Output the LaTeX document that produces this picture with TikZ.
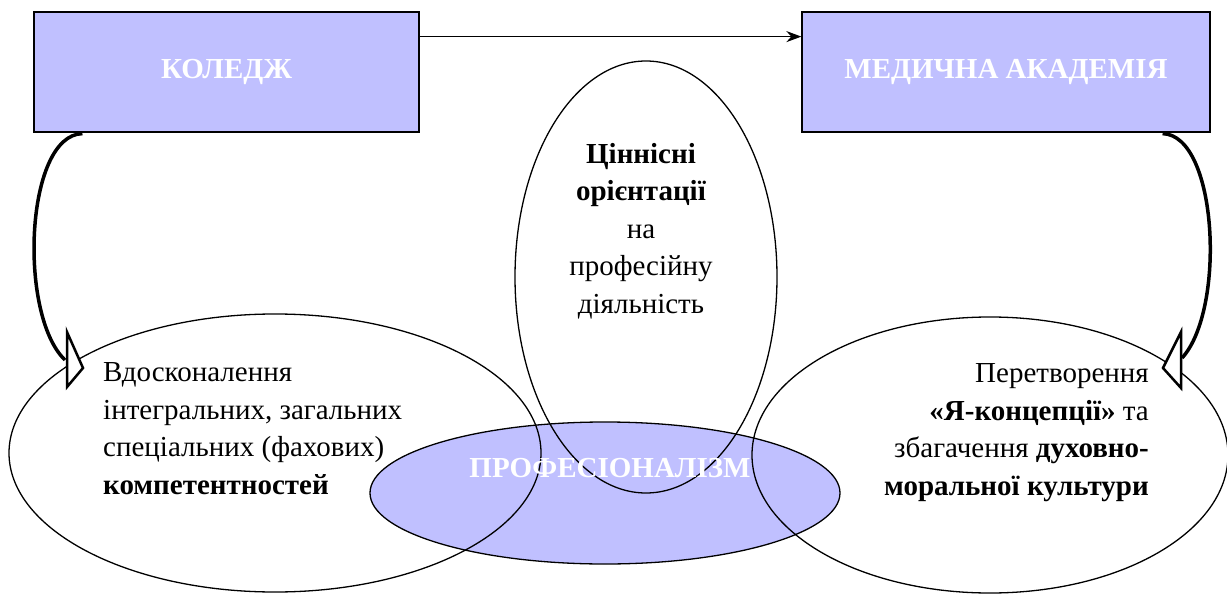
\documentclass[tikz,border=0pt]{standalone}
\usepackage{fontspec}
\setmainfont{Liberation Serif}
\usetikzlibrary{arrows.meta,shapes.geometric,calc}
\definecolor{boxfill}{RGB}{192,192,255}
\begin{document}
\begin{tikzpicture}[x=1pt,y=-1pt,
  box/.style={draw=black,line width=1.2pt,fill=boxfill,minimum height=120pt,inner sep=0pt,
    font=\fontsize{29}{34}\selectfont\bfseries,text=white},
  oval/.style={ellipse,draw=black,line width=1.3pt,inner sep=0pt},
  body/.style={font=\fontsize{29}{37.5}\selectfont,inner sep=0pt},
  shaft/.style={line width=3.5pt,line cap=butt},
  headtip/.style={draw=black,fill=white,line width=2.5pt,line join=miter}]
\useasboundingbox (0,0) rectangle (1227,594);

% boxes
\node[box,minimum width=385pt] (kol) at (226.5,72) {КОЛЕДЖ};
\node[box,minimum width=408pt] (med) at (1006,72) {МЕДИЧНА АКАДЕМІЯ};

% top arrow
\draw[line width=1.5pt,-{Stealth[length=15pt,width=11pt]}]
  ($(kol.north east)!0.208!(kol.south east)$) -- ($(med.north west)!0.208!(med.south west)$);

% purple ellipse fill
\node[ellipse,fill=boxfill,inner sep=0pt,minimum width=470pt,minimum height=142pt] (profFill) at (605,493) {};

% ellipses outlines
\node[oval,minimum width=532pt,minimum height=278pt] (left) at (275,453) {};
\node[oval,minimum width=476pt,minimum height=276pt] (right) at (990,455) {};
\node[oval,minimum width=262pt,minimum height=432pt] (mid) at (646,277) {};
\node[oval,minimum width=470pt,minimum height=142pt] (prof) at (605,493) {};

% texts
\node[font=\fontsize{29}{34}\selectfont\bfseries,text=white,inner sep=0pt,anchor=base] (proft) at (610,477) {ПРОФЕСІОНАЛІЗМ};

\node[body,anchor=base west,align=left] (lt) at (103,494)
  {Вдосконалення\\інтегральних, загальних\\спеціальних (фахових)\\\textbf{компетентностей}};
\node[body,anchor=base east,align=right] (rt) at (1149,495)
  {Перетворення\\\textbf{«Я-концепції»} та\\збагачення \textbf{духовно-}\\\textbf{моральної культури}};
\node[body,anchor=base,align=center] (mt) at (641,313)
  {\textbf{Ціннісні}\\\textbf{орієнтації}\\на\\професійну\\діяльність};

% curved arrows
\coordinate (ls) at ($(kol.south west)+(49,1)$);
\coordinate (le) at (65,360);
\draw[shaft] (ls) .. controls (25,135) and (18,315) .. (le);
\draw[headtip] (67,332) -- (83,368) -- (67,387) -- cycle;

\coordinate (rs) at ($(med.south east)+(-48,1)$);
\coordinate (re) at (1182,358);
\draw[shaft] (rs) .. controls (1218,135) and (1226,310) .. (re);
\draw[headtip] (1181,332) -- (1163,368) -- (1181,388) -- cycle;
\end{tikzpicture}
\end{document}
